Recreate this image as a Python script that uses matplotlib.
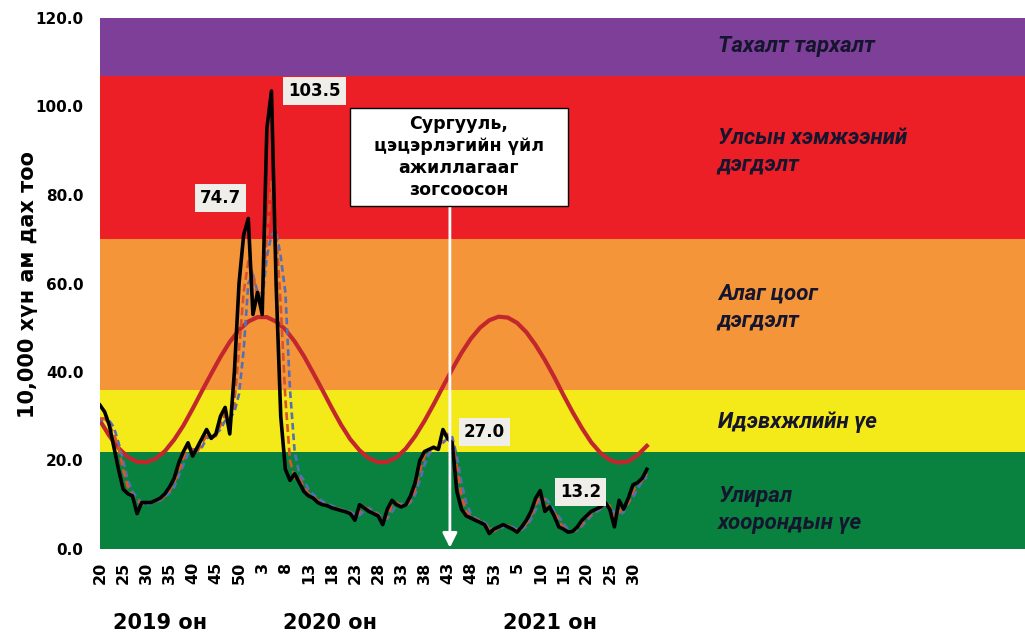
import numpy as np
import matplotlib.pyplot as plt
from matplotlib.patches import Rectangle
from matplotlib.transforms import blended_transform_factory

# 7 хоногийн дугаар (2019 оны 20 -> 2021 оны 33)
weeks_2019 = list(range(20, 53))
weeks_2020 = list(range(1, 54))
weeks_2021 = list(range(1, 34))
week_labels = weeks_2019 + weeks_2020 + weeks_2021

# ТТӨ-ний түвшин, 10,000 хүн амд (хар шугам)
rate = [32.5, 31, 28, 23, 18, 13.5, 12.5, 12, 8, 10.5,
        10.5, 10.5, 11, 11.5, 12.5, 14, 16, 19.5, 22, 24,
        21, 23, 25, 27, 25, 26, 30, 32, 26, 40,
        60, 71, 74.7, 53, 58, 53, 95, 103.5, 60, 30,
        18, 15.5, 17, 15, 13, 12, 11.5, 10.5, 10, 9.8,
        9.3, 9, 8.7, 8.4, 8, 6.5, 10, 9.3, 8.5, 8,
        7.5, 5.5, 9, 11, 10, 9.5, 10, 12, 15, 20,
        22, 22.5, 23, 22.5, 27.0, 25, 24, 13, 9, 7.5,
        7, 6.5, 6, 5.5, 3.5, 4.5, 5, 5.5, 5, 4.5,
        3.8, 5, 6.5, 8.5, 11.5, 13.2, 8.5, 9.5, 7.5, 5,
        4.5, 3.8, 4, 5, 6.5, 7.5, 8.5, 9, 9.5, 10.5,
        9, 5, 11, 9, 11.5, 14.5, 15, 16, 18]

# улаан тасархай шугам
rate_red = [29.5, 29.5, 28, 26, 23, 18, 14, 12, 11, 10,
            10.5, 10.5, 10.8, 11.2, 12, 13.2, 15, 17.5, 20.5, 23,
            22.5, 22, 24, 25.5, 25.5, 25.5, 28, 30.5, 29, 33,
            45, 58, 65, 62, 57, 58, 70, 83, 72, 55,
            34, 20, 16, 16, 14, 12.5, 11.8, 11, 10.3, 9.9,
            9.5, 9.2, 8.9, 8.6, 8.2, 7.3, 8.3, 9.6, 8.9, 8.3,
            7.8, 6.5, 7.3, 10, 10.5, 9.8, 9.8, 11, 13.5, 17.5,
            21, 22.3, 22.8, 22.8, 24.8, 26, 24.5, 18.5, 12, 8.5,
            7.3, 6.8, 6.3, 5.8, 4.5, 4, 4.8, 5.3, 5.3, 4.8,
            4.2, 4.4, 5.8, 7.5, 10, 12.3, 11, 9, 8.5, 6.3,
            4.8, 4.2, 3.9, 4.5, 5.8, 7, 8, 8.8, 9.3, 10,
            9.8, 7, 8, 10, 10.3, 13, 14.8, 15.5, 17]

# цэнхэр тасархай шугам
rate_blue = [29, 29.5, 29, 27.5, 24, 20, 15.5, 13, 11.5, 10.5,
             10, 10.3, 10.7, 11, 11.7, 12.7, 14, 16.5, 19, 21.5,
             22.5, 22.5, 23, 25, 25.5, 26, 27, 29, 29.5, 31,
             35, 45, 60, 62, 58, 56, 66, 71, 72, 66,
             58, 36, 22, 17, 15.5, 13.5, 12.3, 11.5, 10.8, 10.2,
             9.8, 9.4, 9, 8.7, 8.4, 7.8, 7.6, 8.6, 9.3, 8.6,
             8, 7.1, 6.8, 8.4, 10, 10.2, 9.8, 10.5, 12.3, 15.5,
             19, 21.5, 22.5, 22.7, 24, 25, 25.3, 21, 15, 10.5,
             8, 7, 6.5, 6, 5, 4.5, 4.3, 5, 5.2, 5,
             4.4, 4.4, 5.1, 6.7, 8.8, 11, 11.6, 10.4, 8.5, 7.3,
             5.7, 4.4, 4.1, 4.3, 5.2, 6.3, 7.5, 8.3, 9, 9.7,
             9.7, 8.2, 7.7, 8.3, 10.5, 11.7, 13.7, 15.2, 16.3]

# улирлын босго (улаан муруй), 2 долоо хоног тутам
threshold_idx = list(range(0, 119, 2))
threshold = [29.0, 25.6, 22.8, 20.8, 19.7, 19.6, 20.4, 22.1, 24.7, 27.9,
             31.7, 35.7, 39.6, 43.4, 46.8, 49.5, 51.4, 52.4, 52.4, 51.4,
             49.6, 46.9, 43.6, 39.8, 35.9, 31.9, 28.1, 24.8, 22.3, 20.5,
             19.6, 19.7, 20.7, 22.7, 25.5, 28.9, 32.7, 36.7, 40.6, 44.3,
             47.5, 50.0, 51.7, 52.5, 52.3, 51.1, 49.0, 46.1, 42.7, 38.9,
             34.8, 30.9, 27.3, 24.1, 21.7, 20.1, 19.5, 19.8, 21.2, 23.3]

band_edges = [0, 22, 36, 70, 107, 120]
band_colors = ['#098240', '#f4e919', '#f4953a', '#ec1f27', '#7d3f98']
band_names = ['Улирал\nхоорондын үе', 'Идэвхжлийн үе', 'Алаг цоог\nдэгдэлт',
              'Улсын хэмжээний\nдэгдэлт', 'Тахалт тархалт']
band_label_y = [9.0, 28.7, 54.6, 89.9, 113.7]

closure_idx = 75.5
peaks = [(32, '74.7', (-20, 15)), (37, '103.5', (31, 0)),
         (74, '27.0', (30, -2)), (95, '13.2', (29, -1))]

plt.rcParams['font.family'] = 'DejaVu Sans'
fig = plt.figure(figsize=(10.25, 6.34), dpi=100)
ax = fig.add_axes([100 / 1025, 1 - 549 / 634, 925 / 1025, 531 / 634])

x = np.arange(len(rate))
for lo, hi, c in zip(band_edges[:-1], band_edges[1:], band_colors):
    ax.axhspan(lo, hi, color=c, lw=0, zorder=0)

ax.plot(threshold_idx, threshold, color='#c1272d', lw=3.0, zorder=2)
ax.plot(x, rate_blue, color='#5470b5', lw=1.9, ls=(0, (2.5, 1.5)), zorder=3)
ax.plot(x, rate_red, color='#d8552a', lw=1.9, ls=(0, (3, 1.5)), zorder=3)
ax.plot(x, rate, color='black', lw=2.6, zorder=4)

for idx, txt, off in peaks:
    ax.annotate(txt, xy=(idx, rate[idx]), xytext=off, textcoords='offset points',
                ha='center', va='center', fontsize=12, fontweight='bold',
                bbox=dict(boxstyle='square,pad=0.3', fc='#efeee8', ec='none'),
                zorder=6)

tr = blended_transform_factory(ax.transAxes, ax.transData)
for name, yv in zip(band_names, band_label_y):
    ax.text(0.668, yv, name, transform=tr, ha='left', va='center',
            fontsize=16, fontweight='bold', fontstyle='italic',
            family=['Roboto', 'Liberation Sans'], color='#15152e',
            linespacing=1.3)

# сургууль хаасан тэмдэглэл
ax.add_patch(Rectangle((0.270, 0.646), 0.236, 0.1845, transform=ax.transAxes,
                       fc='white', ec='black', lw=1, zorder=6))
ax.text(0.388, 0.738, 'Сургууль,\nцэцэрлэгийн үйл\nажиллагааг\nзогсоосон',
        transform=ax.transAxes, ha='center', va='center', fontsize=12.5,
        fontweight='bold', linespacing=1.3, zorder=7)
ax.annotate('', xy=(closure_idx, 0.3), xytext=(closure_idx, 77.5),
            arrowprops=dict(arrowstyle='-|>', color='white', lw=2,
                            mutation_scale=22, shrinkA=0, shrinkB=0), zorder=5)

ax.set_xlim(0, 199.6)
ax.set_ylim(0, 120)
ax.set_xticks(x[::5])
ax.set_xticklabels([str(w) for w in week_labels[::5]], rotation=90,
                   fontsize=11.5, fontweight='bold')
ax.set_yticks(range(0, 121, 20))
ax.set_yticklabels([f'{v:.1f}' for v in range(0, 121, 20)],
                   fontsize=11, fontweight='bold')
ax.tick_params(axis='x', length=0, pad=9)
ax.tick_params(axis='y', length=0, pad=12)
for s in ax.spines.values():
    s.set_visible(False)

fig.text(28 / 1025, 1 - 284 / 634, '10,000 хүн ам дах тоо', rotation=90,
         ha='center', va='center', fontsize=15, fontweight='bold')
for xp, yr in [(160, '2019 он'), (330, '2020 он'), (550, '2021 он')]:
    fig.text(xp / 1025, 1 - 623 / 634, yr, ha='center', va='center',
             fontsize=15, fontweight='bold')

fig.savefig('out.png', dpi=100)
